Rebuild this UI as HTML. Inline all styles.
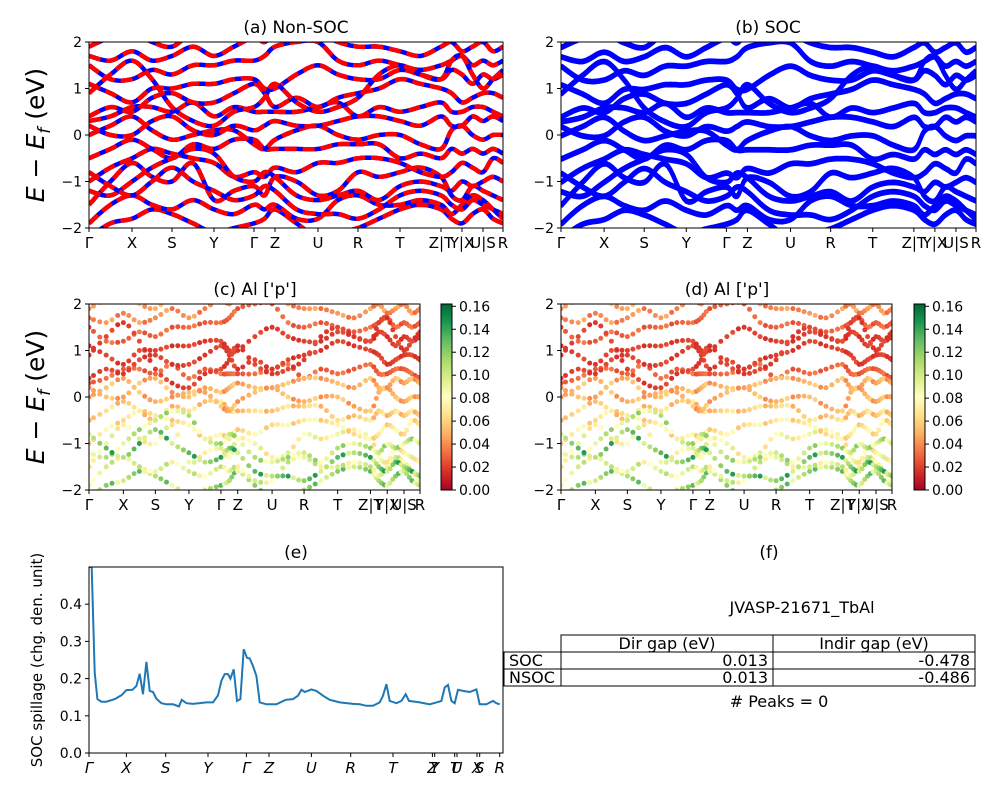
<!DOCTYPE html>
<html><head><meta charset="utf-8">
<style>
html,body{margin:0;padding:0;background:#fff;}
svg{display:block;font-family:"DejaVu Sans","Liberation Sans",sans-serif;}
</style></head>
<body>
<svg id="fig" width="1000" height="800" viewBox="0 0 1000 800" xmlns="http://www.w3.org/2000/svg">
<defs>
<clipPath id="clipA"><rect x="89" y="42" width="414" height="186"/></clipPath>
<clipPath id="clipB"><rect x="561" y="42" width="415" height="186"/></clipPath>
<clipPath id="clipC"><rect x="89" y="304" width="331" height="186"/></clipPath>
<clipPath id="clipD"><rect x="561" y="304" width="331" height="186"/></clipPath>
<clipPath id="clipE"><rect x="89" y="567" width="414" height="186"/></clipPath>
<linearGradient id="cmap" x1="0" y1="1" x2="0" y2="0">
<stop offset="0" stop-color="#a50026"/><stop offset="0.1" stop-color="#d73027"/><stop offset="0.2" stop-color="#f46d43"/><stop offset="0.3" stop-color="#fdae61"/><stop offset="0.4" stop-color="#fee08b"/><stop offset="0.5" stop-color="#ffffbf"/><stop offset="0.6" stop-color="#d9ef8b"/><stop offset="0.7" stop-color="#a6d96a"/><stop offset="0.8" stop-color="#66bd63"/><stop offset="0.9" stop-color="#1a9850"/><stop offset="1" stop-color="#006837"/>
</linearGradient>
</defs>
<g id="root"></g>
<g font-size="16">
<text x="802" y="613" text-anchor="middle">JVASP-21671_TbAl</text>
<rect x="561" y="635" width="414" height="17" fill="none" stroke="#000"/>
<rect x="504" y="652" width="471" height="34" fill="none" stroke="#000"/>
<line x1="561" y1="652" x2="561" y2="686" stroke="#000"/>
<line x1="773" y1="635" x2="773" y2="686" stroke="#000"/>
<line x1="504" y1="669" x2="975" y2="669" stroke="#000"/>
<text x="667" y="649" text-anchor="middle">Dir gap (eV)</text>
<text x="874" y="649" text-anchor="middle">Indir gap (eV)</text>
<text x="509" y="666">SOC</text>
<text x="768" y="666" text-anchor="end">0.013</text>
<text x="970" y="666" text-anchor="end">-0.478</text>
<text x="509" y="683">NSOC</text>
<text x="768" y="683" text-anchor="end">0.013</text>
<text x="970" y="683" text-anchor="end">-0.486</text>
<text x="779" y="707" text-anchor="middle"># Peaks = 0</text>
<text x="769" y="558" text-anchor="middle" font-size="17">(f)</text>
</g>
</svg>
<script>
// ---- data ----
const kTicks = [0, 43, 83, 125, 165, 186, 229, 269, 311, 352, 373, 394, 414];
const kLabels = ["Γ","X","S","Y","Γ","Z","U","R","T","Z|T","Y|X","U|S","R"];
const band1 = [-2.2,-1.9,-1.8,-1.6,-1.7,-1.9,-2.1,-2.0,-1.9,-1.8,-1.6,-1.9,-2.2,-2.1,-2.0,-1.8,-1.6,-1.5,-1.6,-1.8,-1.9,-1.7,-1.6,-1.8,-1.9];
const band2 = [-1.9,-1.5,-1.3,-1.5,-1.6,-1.4,-1.6,-1.7,-1.5,-1.6,-1.5,-1.8,-1.8,-1.4,-1.3,-1.5,-1.5,-1.4,-1.5,-1.7,-1.5,-1.3,-1.4,-1.6,-1.8];
const band3 = [-1.5,-1.0,-0.6,-0.9,-1.0,-0.6,-1.4,-1.2,-1.1,-1.3,-0.9,-1.0,-1.3,-1.2,-0.8,-0.9,-0.8,-0.7,-0.9,-1.3,-1.4,-1.1,-1.2,-1.3,-1.4];
const band4 = [-1.0,-0.7,-0.5,-0.3,-0.4,-0.5,-0.6,-0.9,-0.8,-0.9,-0.7,-0.8,-0.6,-0.6,-0.5,-0.5,-0.6,-0.8,-0.9,-0.8,-0.6,-0.7,-0.8,-0.5,-0.6];
const band5 = [-0.5,-0.3,-0.1,-0.3,-0.5,-0.2,-0.3,-0.1,-0.1,-0.3,-0.3,-0.3,-0.3,-0.2,-0.2,-0.2,-0.5,-0.4,-0.5,-0.3,-0.4,-0.3,-0.4,-0.3,-0.4];
const band6 = [0.0,0.2,0.4,0.1,-0.1,0.0,0.1,0.1,-0.2,-0.3,-0.1,0.1,0.2,0.0,-0.1,0.0,0.0,-0.2,-0.3,0.1,0.2,0.0,-0.1,0.0,0.0];
const band7 = [0.3,0.4,0.6,0.6,0.5,0.7,0.4,0.6,0.5,0.5,0.5,0.5,0.6,0.7,0.4,0.6,0.5,0.6,0.7,0.5,0.5,0.6,0.6,0.5,0.4];
const band8 = [0.4,0.6,0.5,0.8,0.9,0.7,0.7,0.9,1.1,0.9,0.6,0.8,0.6,0.8,0.9,1.0,1.2,1.1,1.0,0.9,0.7,0.8,0.9,0.9,0.8];
const band9 = [1.1,0.9,0.7,1.0,1.0,1.1,1.1,1.2,1.2,1.0,1.0,1.3,1.5,1.3,1.2,1.2,1.4,1.3,1.2,1.4,1.3,1.1,1.3,1.2,1.3];
const band10 = [1.5,1.2,1.2,1.4,1.3,1.5,1.5,1.6,1.6,1.7,1.9,2.0,2.0,1.6,1.5,1.6,1.5,1.4,1.5,1.6,1.7,1.5,1.6,1.5,1.6];
const band11 = [1.7,1.6,1.8,1.6,1.7,1.9,1.7,1.9,2.1,2.0,2.2,2.3,2.2,2.0,1.9,1.9,1.8,1.7,1.9,2.0,1.8,1.9,2.0,1.8,1.9];
const band12 = [1.9,2.1,2.2,2.0,1.9,2.2,2.1,2.2,2.3,2.3,2.4,2.4,2.4,2.3,2.1,2.2,2.2,2.3,2.2,2.1,2.2,2.1,2.2,2.2,2.1];
const band13 = [-1.2,-1.3,-1.0,-0.7,-0.5,-0.3,-0.4,-0.9,-1.0,-0.8,-0.9,-1.3,-1.4,-1.3,-1.2,-1.4,-1.1,-1.0,-1.1,-1.2,-1.0,-1.1,-1.0,-0.9,-1.0];
const band14 = [0.2,0.0,0.0,0.3,0.4,0.1,0.0,0.2,0.1,0.2,0.3,0.2,0.2,0.3,0.4,0.4,0.3,0.2,0.4,0.2,0.2,0.4,0.3,0.4,0.3];
const band15 = [0.9,1.3,1.6,1.2,0.6,0.3,0.2,0.5,0.6,0.8,1.1,0.7,0.5,0.6,0.8,1.3,1.5,1.3,1.2,1.6,1.7,1.3,1.0,1.2,1.4];
const band16 = [-0.8,-1.1,-1.3,-1.0,-0.7,-1.0,-1.2,-1.4,-1.3,-1.1,-1.2,-1.6,-1.7,-1.7,-1.8,-1.6,-1.3,-1.2,-1.3,-1.5,-1.6,-1.4,-1.5,-1.6,-1.7];
const bandWeights = [0.11,0.09,0.08,0.07,0.06,0.05,0.03,0.02,0.02,0.03,0.04,0.05,0.10,0.05,0.02,0.12];
const yTicks = [2,1,0,-1,-2];
const cbTicks = [0,0.02,0.04,0.06,0.08,0.10,0.12,0.14,0.16];
const spillK = [0,2.7,5.7,8.4,12.4,17.4,25.7,32.4,37.4,43.4,47.4,50.7,54,57.4,60.7,64,67.4,72.4,77.4,84,90,92.7,97.4,104,117.4,124,129,132.4,135.7,139,141.4,144.7,148,151.4,154.7,158,160.7,164,167.4,170.7,177.4,187.4,196.7,204,209,212.4,215.7,222.4,227.4,234,240.7,250.7,264,270.7,277.4,284,290.7,294,297.4,300.7,307.4,312.4,316.7,320,330.7,340.7,347.4,352.4,355.7,359,362.4,365.7,369,374,380.7,387.4,390.7,397.4,404,407.4,410.7];
const spillV = [0.5,0.5,0.216,0.145,0.138,0.138,0.145,0.155,0.169,0.170,0.18,0.213,0.158,0.245,0.167,0.164,0.146,0.134,0.131,0.131,0.125,0.143,0.134,0.132,0.136,0.136,0.155,0.194,0.212,0.212,0.2,0.225,0.14,0.145,0.279,0.256,0.254,0.234,0.207,0.136,0.131,0.131,0.143,0.145,0.154,0.17,0.164,0.171,0.167,0.154,0.143,0.136,0.132,0.131,0.127,0.127,0.136,0.154,0.185,0.14,0.134,0.14,0.158,0.14,0.136,0.131,0.136,0.14,0.176,0.183,0.14,0.134,0.17,0.167,0.164,0.171,0.131,0.131,0.14,0.134,0.131];
const spillTicksK = [0,37.4,76.7,119,157.4,180,222.4,261.7,304,343.4,345.7,365.7,368,388,390.7,410.7];
const spillLabels = ["Γ","X","S","Y","Γ","Z","U","R","T","Z","Y","T","U","X","S","R"];
const spillYTicks = [0,0.1,0.2,0.3,0.4];

const bands = [band1,band2,band3,band4,band5,band6,band7,band8,band9,band10,band11,band12,band13,band14,band15,band16];
const NS = "http://www.w3.org/2000/svg";
const root = document.getElementById('root');
function mk(tag, attrs, parent){const e=document.createElementNS(NS,tag);for(const k in attrs)e.setAttribute(k,attrs[k]);(parent||root).appendChild(e);return e;}
const cstops=[[0,[165,0,38]],[0.1,[215,48,39]],[0.2,[244,109,67]],[0.3,[253,174,97]],[0.4,[254,224,139]],[0.5,[255,255,191]],[0.6,[217,239,139]],[0.7,[166,217,106]],[0.8,[102,189,99]],[0.9,[26,152,80]],[1,[0,104,55]]];
function cmap(t){t=Math.max(0,Math.min(1,t));for(let i=1;i<cstops.length;i++){if(t<=cstops[i][0]){const a=cstops[i-1],b=cstops[i];const f=(t-a[0])/(b[0]-a[0]);const c=a[1].map((v,j)=>Math.round(v+(b[1][j]-v)*f));return `rgb(${c[0]},${c[1]},${c[2]})`;}}return 'rgb(0,104,55)';}
function bandK(){const k=[];for(let i=0;i<kTicks.length;i++){k.push(kTicks[i]);if(i<kTicks.length-1)k.push((kTicks[i]+kTicks[i+1])/2);}return k;}
const BK = bandK();
function smoothPts(xs,ys,n){const out=[];for(let i=0;i<xs.length-1;i++){const p0=[xs[Math.max(0,i-1)],ys[Math.max(0,i-1)]],p1=[xs[i],ys[i]],p2=[xs[i+1],ys[i+1]],p3=[xs[Math.min(xs.length-1,i+2)],ys[Math.min(xs.length-1,i+2)]];for(let s=0;s<n;s++){const t=s/n,t2=t*t,t3=t2*t;const f=(a,b,c,d)=>0.5*((2*b)+(-a+c)*t+(2*a-5*b+4*c-d)*t2+(-a+3*b-3*c+d)*t3);out.push([f(p0[0],p1[0],p2[0],p3[0]),f(p0[1],p1[1],p2[1],p3[1])]);}}out.push([xs[xs.length-1],ys[ys.length-1]]);return out;}

function frame(g,x0,y0,w,h){mk('rect',{x:x0,y:y0,width:w,height:h,fill:'none',stroke:'#000','stroke-width':1},g);}
function bandTicks(g,x0,y0,w,h,name){
  yTicks.forEach(v=>{const y=y0+(2-v)/4*h;mk('line',{x1:x0-4,y1:y,x2:x0,y2:y,stroke:'#000'},g);const t=mk('text',{x:x0-7,y:y+5,'text-anchor':'end','font-size':14},g);t.textContent=(v<0?'−':'')+Math.abs(v);});
  kTicks.forEach((k,i)=>{const x=x0+k/414*w;mk('line',{x1:x,y1:y0+h,x2:x,y2:y0+h+4,stroke:'#000'},g);const t=mk('text',{x:x,y:y0+h+20,'text-anchor':'middle','font-size':15},g);t.textContent=kLabels[i];});
}
function title(g,x,y,s,name){const t=mk('text',{x:x,y:y,'text-anchor':'middle','font-size':17},g);t.textContent=s;}
function ylabel(g,x,y,name){const t=mk('text',{x:0,y:0,transform:`translate(${x},${y}) rotate(-90)`,'text-anchor':'middle','font-size':25},g);t.innerHTML='<tspan font-style="italic">E</tspan> − <tspan font-style="italic">E</tspan><tspan font-style="italic" font-size="17" dy="6">f</tspan><tspan dy="-6"> (eV)</tspan>';}

function linePanel(x0,y0,w,h,clip,name,kind){
  const g=mk('g',{});
  const cg=mk('g',{'clip-path':`url(#${clip})`},g);
  bands.forEach((b,bi)=>{
    const pts=smoothPts(BK.map(k=>x0+k/414*w),b.map(e=>y0+(2-e)/4*h),8);
    const d='M'+pts.map(p=>p[0].toFixed(1)+','+p[1].toFixed(1)).join('L');
    if(kind==='nsoc'){
      const p1=mk('path',{d:d,fill:'none',stroke:'#0000ff','stroke-width':4.5},cg);
      
      const p2=mk('path',{d:d,fill:'none',stroke:'#ff0000','stroke-width':4.5,'stroke-dasharray':'12,6'},cg);
      
    } else {
      const p=mk('path',{d:d,fill:'none',stroke:'#0000ff','stroke-width':4},cg);
      
      const p2=mk('path',{d:d,fill:'none',stroke:'#0000ff','stroke-width':3.5,transform:'translate(0,2)'},cg);
      
    }
  });
  frame(g,x0,y0,w,h);bandTicks(g,x0,y0,w,h,name);return g;
}
function scatterPanel(x0,y0,w,h,clip,name,cbx){
  const g=mk('g',{});
  const cg=mk('g',{'clip-path':`url(#${clip})`},g);
  bands.forEach((b,bi)=>{
    const pts=smoothPts(BK.map(k=>x0+k/414*w),b.map(e=>y0+(2-e)/4*h),3);
    pts.forEach((p,i)=>{const wv=bandWeights[bi]*(0.8+0.4*((i%5)/4));
      const c=mk('circle',{cx:p[0].toFixed(1),cy:p[1].toFixed(1),r:2.5,fill:cmap(wv/0.162)},cg);
      });
  });
  frame(g,x0,y0,w,h);bandTicks(g,x0,y0,w,h,name);
  const cb=mk('g',{},g);
  mk('rect',{x:cbx,y:y0,width:11,height:h,fill:'url(#cmap)',stroke:'#000'},cb);
  cbTicks.forEach(v=>{const y=y0+h-v/0.162*h;mk('line',{x1:cbx+11,y1:y,x2:cbx+15,y2:y,stroke:'#000'},cb);const t=mk('text',{x:cbx+18,y:y+5,'font-size':14},cb);t.textContent=v.toFixed(2);});
  return g;
}
const ga=linePanel(89,42,414,186,'clipA','panel-a-non-soc','nsoc');title(ga,296,33,'(a) Non-SOC','panel-a');ylabel(ga,44,135,'panel-a');
const gb=linePanel(561,42,415,186,'clipB','panel-b-soc','soc');title(gb,768,33,'(b) SOC','panel-b');
const gc=scatterPanel(89,304,331,186,'clipC','panel-c-al-p',441);title(gc,255,295,"(c)  Al ['p']",'panel-c');ylabel(gc,44,397,'panel-c');
const gd=scatterPanel(561,304,331,186,'clipD','panel-d-al-p',914);title(gd,727,295,"(d) Al ['p']",'panel-d');
(function(){
  const x0=89,y0=567,w=414,h=186;const xs=k=>x0+k/414*w, ys=v=>y0+h-v/0.5*h;
  const g=mk('g',{});
  const cg=mk('g',{'clip-path':'url(#clipE)'},g);
  const p=mk('path',{d:'M'+spillK.map((k,i)=>xs(k).toFixed(1)+','+ys(spillV[i]).toFixed(1)).join('L'),fill:'none',stroke:'#1f77b4','stroke-width':2},cg);
  
  frame(g,x0,y0,w,h);
  spillYTicks.forEach(v=>{const y=ys(v);mk('line',{x1:x0-4,y1:y,x2:x0,y2:y,stroke:'#000'},g);const t=mk('text',{x:x0-7,y:y+5,'text-anchor':'end','font-size':14},g);t.textContent=v.toFixed(1);});
  spillTicksK.forEach((k,i)=>{const x=xs(k);mk('line',{x1:x,y1:y0+h,x2:x,y2:y0+h+4,stroke:'#000'},g);const t=mk('text',{x:x,y:y0+h+20,'text-anchor':'middle','font-size':15,'font-style':'italic'},g);t.textContent=spillLabels[i];});
  title(g,296,558,'(e)','panel-e');
  const yl=mk('text',{x:0,y:0,transform:'translate(42,660) rotate(-90)','text-anchor':'middle','font-size':15},g);yl.textContent='SOC spillage (chg. den. unit)';
  
  
})();
</script>
</body></html>
